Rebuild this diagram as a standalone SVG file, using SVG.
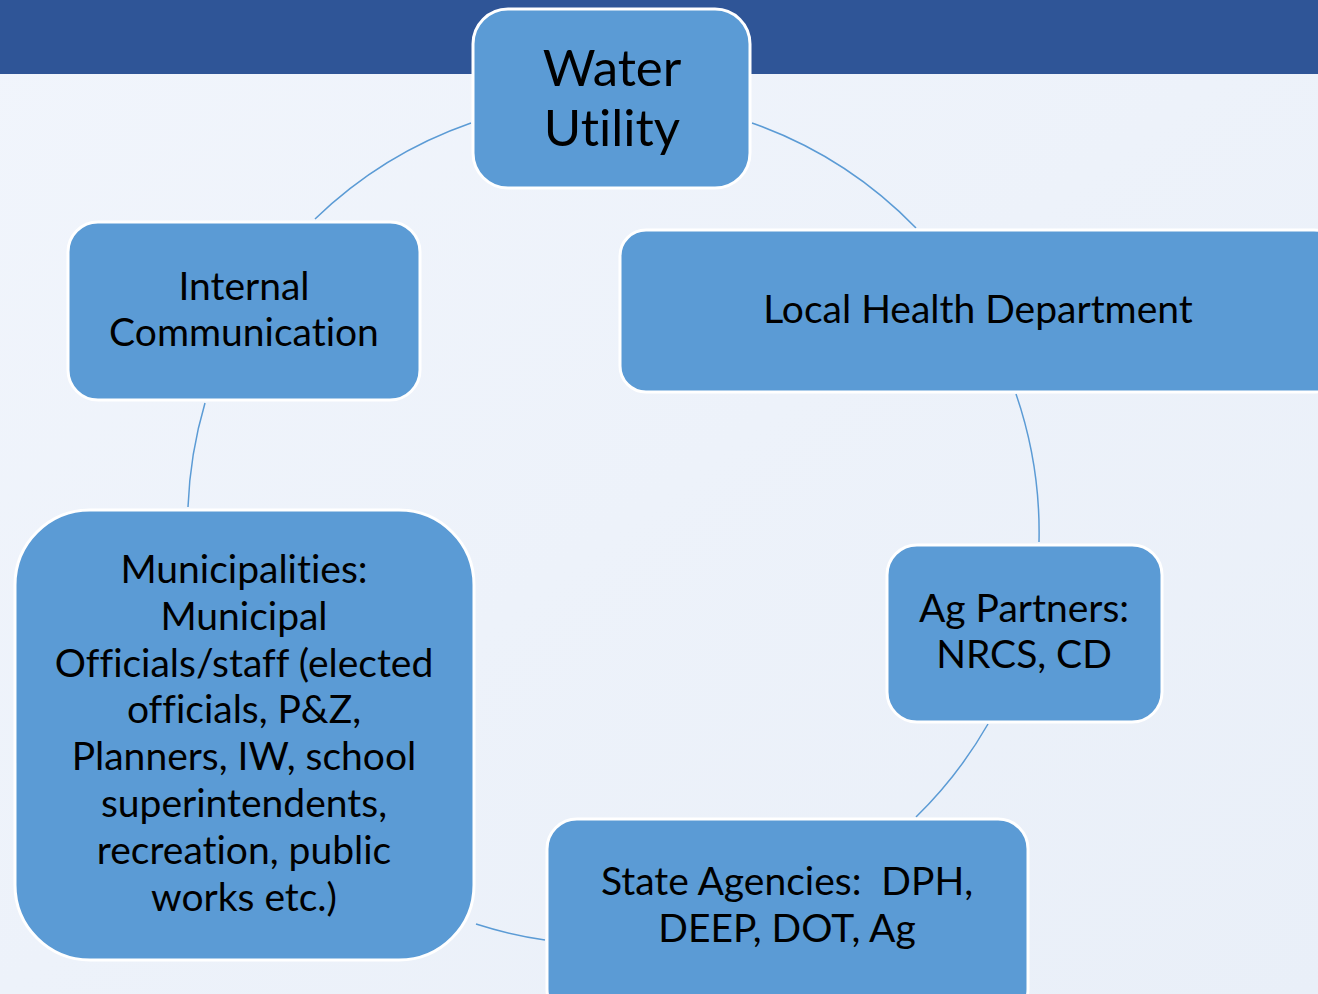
<svg xmlns="http://www.w3.org/2000/svg" width="1318" height="994" viewBox="0 0 1318 994">
<defs>
<linearGradient id="bg" x1="0" y1="0" x2="1" y2="1">
<stop offset="0" stop-color="#F1F5FC"/>
<stop offset="1" stop-color="#E9EFF8"/>
</linearGradient>
</defs>
<style>
.box{fill:#5B9BD5;stroke:#FFFFFF;stroke-width:3}
.t{font-family:Lato,"Open Sans","Liberation Sans",sans-serif;fill:#000;text-anchor:middle;font-size:39px;font-variant-ligatures:none;white-space:pre}
.c{fill:none;stroke:#5B9BD5;stroke-width:1.5}
</style>
<rect x="0" y="0" width="1318" height="994" fill="url(#bg)"/>
<rect x="0" y="0" width="1318" height="74" fill="#2F5597"/>
<g id="connectors">
<path class="c" d="M471,123 A425,425 0 0 0 315,219"/>
<path class="c" d="M752,123 A425,425 0 0 1 916,228"/>
<path class="c" d="M1016,394 A425,425 0 0 1 1039,542"/>
<path class="c" d="M988,724 A425,425 0 0 1 916,817"/>
<path class="c" d="M545,940 A425,425 0 0 1 476,924"/>
<path class="c" d="M188,507 A425,425 0 0 1 205,403"/>
</g>
<g id="water-utility">
<rect class="box" x="473" y="9" width="277" height="179" rx="35"/>
<text class="t" style="font-size:51px" x="612" y="86">Water</text>
<text class="t" style="font-size:51px" x="612" y="146">Utility</text>
</g>
<g id="internal-communication">
<rect class="box" x="68" y="222" width="352" height="178" rx="30"/>
<text class="t" x="244" y="300">Internal</text>
<text class="t" x="244" y="346">Communication</text>
</g>
<g id="local-health-department">
<rect class="box" x="620" y="230" width="720" height="162" rx="26"/>
<text class="t" x="978" y="323">Local Health Department</text>
</g>
<g id="ag-partners">
<rect class="box" x="887" y="545" width="275" height="177" rx="30"/>
<text class="t" x="1024" y="622">Ag Partners:</text>
<text class="t" x="1024" y="668">NRCS, CD</text>
</g>
<g id="state-agencies">
<rect class="box" x="547" y="819" width="481" height="200" rx="30"/>
<text class="t" x="787" y="895">State Agencies:  DPH,</text>
<text class="t" x="787" y="942">DEEP, DOT, Ag</text>
</g>
<g id="municipalities">
<rect class="box" x="15" y="510" width="459" height="450" rx="75"/>
<text class="t" x="244" y="583">Municipalities:</text>
<text class="t" x="244" y="630">Municipal</text>
<text class="t" x="244" y="677">Officials/staff (elected</text>
<text class="t" x="244" y="723">officials, P&amp;Z,</text>
<text class="t" x="244" y="770">Planners, IW, school</text>
<text class="t" x="244" y="817">superintendents,</text>
<text class="t" x="244" y="864">recreation, public</text>
<text class="t" x="244" y="911">works etc.)</text>
</g>
</svg>
